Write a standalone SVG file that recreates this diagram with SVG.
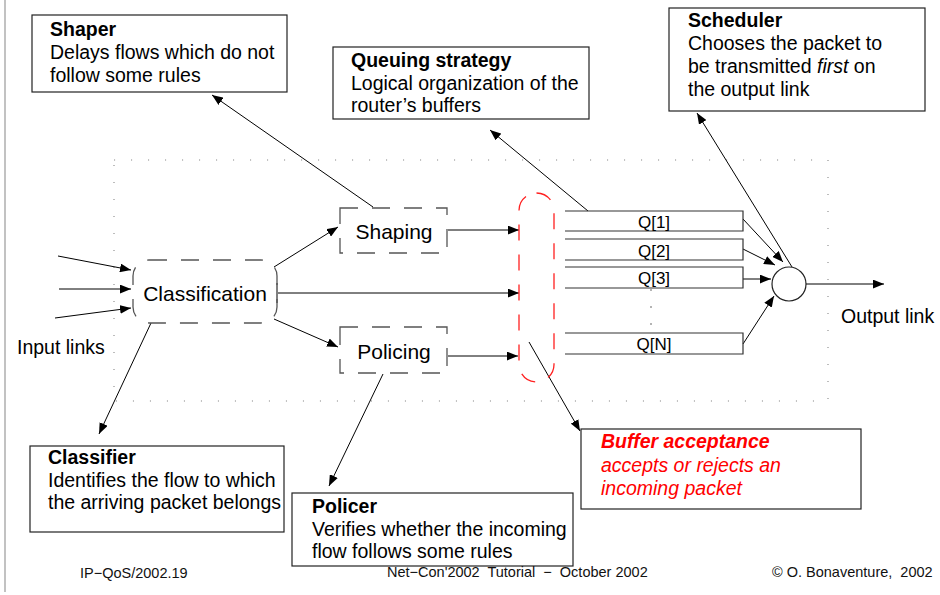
<svg xmlns="http://www.w3.org/2000/svg" width="940" height="595" viewBox="0 0 940 595">
  <defs>
    <marker id="arrow" viewBox="0 0 10 8" refX="10" refY="4" markerWidth="11" markerHeight="9" markerUnits="userSpaceOnUse" orient="auto">
      <path d="M0,0 L10,4 L0,8 z" fill="#000"/>
    </marker>
    <style>
      text { font-family: "Liberation Sans", Arial, sans-serif; fill: #000; }
      .box { fill: #fff; stroke: #222; stroke-width: 1.2; }
      .txt { font-size: 19.5px; }
      .bold { font-weight: bold; }
      .node { fill: none; stroke: #555; stroke-width: 1.3; stroke-dasharray: 18 14; }
      .buf { fill: none; stroke: #ff2020; stroke-width: 1.3; stroke-dasharray: 16 14; }
      .link { fill: none; stroke: #000; stroke-width: 1; }
      .arr { fill: none; stroke: #000; stroke-width: 1; marker-end: url(#arrow); }
      .queue { fill: none; stroke: #333; stroke-width: 1.2; }
      .qlabel { font-size: 17px; text-anchor: middle; }
      .dots { fill: none; stroke: #888; stroke-width: 1.1; stroke-dasharray: 1.1 15.9; }
      .foot { font-size: 14.5px; fill: #111; white-space: pre; }
      .red { fill: #ff0000; font-style: italic; }
    </style>
  </defs>

  <rect width="940" height="595" fill="#fff"/>
  <!-- page margin rule -->
  <line x1="5" y1="0" x2="5" y2="592" stroke="#999" stroke-width="1.2"/>

  <!-- router boundary (dotted) -->
  <rect x="114" y="160" width="714" height="241" class="dots"/>

  <!-- connectors -->
  <g id="connectors">
    <line class="arr" x1="58" y1="256" x2="131" y2="270"/>
    <line class="arr" x1="59" y1="289" x2="131" y2="289"/>
    <line class="arr" x1="55" y1="318" x2="131" y2="308"/>
    <line class="arr" x1="274" y1="267" x2="338" y2="227"/>
    <line class="arr" x1="274" y1="319" x2="338" y2="347"/>
    <line class="arr" x1="278" y1="293" x2="519" y2="293"/>
    <line class="link" x1="277" y1="283" x2="277" y2="303"/>
    <line class="arr" x1="448" y1="230" x2="519" y2="230"/>
    <line class="arr" x1="448" y1="356" x2="518" y2="356"/>
    <!-- queues to scheduler -->
    <line class="arr" x1="743" y1="219" x2="783" y2="262"/>
    <line class="arr" x1="743" y1="249" x2="775" y2="265"/>
    <line class="arr" x1="743" y1="279" x2="771" y2="279"/>
    <line class="arr" x1="743" y1="344" x2="774" y2="296"/>
    <line class="arr" x1="806" y1="284" x2="884" y2="284"/>
    <!-- callouts -->
    <line class="arr" x1="373" y1="207" x2="212" y2="95"/>
    <line class="arr" x1="588" y1="211" x2="490" y2="130"/>
    <line class="arr" x1="792" y1="267" x2="697" y2="113"/>
    <line class="arr" x1="151" y1="323" x2="99" y2="434"/>
    <line class="arr" x1="383" y1="374" x2="329" y2="486"/>
    <line class="arr" x1="529" y1="342" x2="580" y2="431"/>
  </g>

  <!-- processing stages -->
  <g id="classification">
    <rect class="node" x="133" y="260" width="144" height="63" rx="16"/>
    <text x="205" y="301" font-size="21px" text-anchor="middle">Classification</text>
  </g>
  <g id="shaping">
    <rect class="node" x="340" y="208" width="107" height="45"/>
    <text x="394" y="239" font-size="21px" text-anchor="middle">Shaping</text>
  </g>
  <g id="policing">
    <rect class="node" x="340" y="327" width="107" height="46"/>
    <text x="394" y="359" font-size="21px" text-anchor="middle">Policing</text>
  </g>
  <g id="buffer">
    <rect class="buf" x="519" y="193" width="35" height="189" rx="17.5"/>
  </g>

  <!-- queues -->
  <g id="q1">
    <path class="queue" d="M565,211 H743 V231 H565"/>
    <text class="qlabel" x="654" y="228">Q[1]</text>
  </g>
  <g id="q2">
    <path class="queue" d="M565,239 H743 V260 H565"/>
    <text class="qlabel" x="654" y="257">Q[2]</text>
  </g>
  <g id="q3">
    <path class="queue" d="M565,267 H743 V288 H565"/>
    <text class="qlabel" x="654" y="284">Q[3]</text>
  </g>
  <g id="qdots" fill="#555">
    <circle cx="651" cy="290" r="0.8"/>
    <circle cx="651" cy="307" r="0.8"/>
    <circle cx="651" cy="324" r="0.8"/>
  </g>
  <g id="qn">
    <path class="queue" d="M565,333 H743 V354 H565"/>
    <text class="qlabel" x="654" y="350">Q[N]</text>
  </g>

  <g id="scheduler-node">
    <circle cx="789" cy="284" r="17" fill="#fff" stroke="#222" stroke-width="1.2"/>
  </g>

  <g id="input-label">
    <text class="txt" x="17" y="354">Input links</text>
  </g>
  <g id="output-label">
    <text class="txt" x="841" y="323">Output link</text>
  </g>

  <!-- descriptive boxes -->
  <g id="shaper">
    <rect class="box" x="32" y="15" width="255" height="77"/>
    <text class="txt" x="50" y="36"><tspan class="bold">Shaper</tspan><tspan x="50" dy="23">Delays flows which do not</tspan><tspan x="50" dy="23">follow some rules</tspan></text>
  </g>
  <g id="queuing-strategy">
    <rect class="box" x="333" y="47" width="256" height="72"/>
    <text class="txt" x="351" y="67"><tspan class="bold">Queuing strategy</tspan><tspan x="351" dy="23">Logical organization of the</tspan><tspan x="351" dy="22">router’s buffers</tspan></text>
  </g>
  <g id="scheduler">
    <rect class="box" x="669" y="8" width="256" height="103"/>
    <text class="txt" x="688" y="27"><tspan class="bold">Scheduler</tspan><tspan x="688" dy="23">Chooses the packet to</tspan><tspan x="688" dy="23">be transmitted <tspan font-style="italic">first</tspan> on</tspan><tspan x="688" dy="23">the output link</tspan></text>
  </g>
  <g id="classifier">
    <rect class="box" x="30" y="446" width="254" height="86"/>
    <text class="txt" x="48" y="464"><tspan class="bold">Classifier</tspan><tspan x="48" dy="23">Identifies the flow to which</tspan><tspan x="48" dy="22">the arriving packet belongs</tspan></text>
  </g>
  <g id="policer">
    <rect class="box" x="292" y="493" width="281" height="73"/>
    <text class="txt" x="312" y="513"><tspan class="bold">Policer</tspan><tspan x="312" dy="23">Verifies whether the incoming</tspan><tspan x="312" dy="22">flow follows some rules</tspan></text>
  </g>
  <g id="buffer-acceptance">
    <rect class="box" x="581" y="429" width="280" height="80"/>
    <text class="txt red" x="601" y="448"><tspan class="bold">Buffer acceptance</tspan><tspan x="601" dy="24">accepts or rejects an</tspan><tspan x="601" dy="23">incoming packet</tspan></text>
  </g>

  <!-- footer -->
  <g id="footer">
    <text class="foot" x="80" y="578">IP−QoS/2002.19</text>
    <text class="foot" x="387" y="577">Net−Con'2002  Tutorial  −  October 2002</text>
    <text class="foot" x="772" y="577">© O. Bonaventure,  2002</text>
  </g>
</svg>
